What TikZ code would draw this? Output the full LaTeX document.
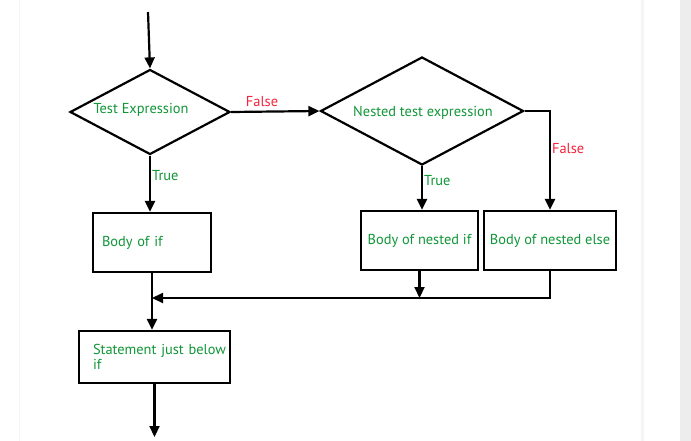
\documentclass[tikz,border=0pt]{standalone}
\usepackage{fontspec}
\setmainfont{PT Sans}
\usetikzlibrary{arrows.meta,shapes.geometric}
\definecolor{tGreen}{RGB}{16,150,56}
\definecolor{tRed}{RGB}{245,35,60}
\definecolor{pGray}{gray}{0.93}
\newcommand{\fsz}{\fontsize{14.4}{14.5}\selectfont}
\tikzset{
    diam/.style={diamond, draw, line width=2.2pt, inner sep=0pt},
    box/.style={rectangle, draw, line width=2.2pt, align=left, text=tGreen, font=\fsz},
    txt/.style={text=tGreen, font=\fsz, inner sep=0pt},
    lbl/.style={font=\fsz, inner sep=1pt},
    flow/.style={line width=2.2pt, -{Triangle[length=11pt,width=10pt]}}
}

\begin{document}
\begin{tikzpicture}[x=1pt,y=-1pt]
\useasboundingbox (0,0) rectangle (691,441);
\fill[white] (0,0) rectangle (691,441);
\fill[pGray] (680,0) rectangle (691,441);
\draw[gray!8,line width=3pt] (642,0)--(642,441);
\draw[gray!6] (19,0)--(19,441);
\node[diam,minimum width=160pt,minimum height=85pt] (test) at (150,112) {};
\node[txt] (testtxt) at (141,110) {Test Expression};
\node[diam,minimum width=203pt,minimum height=108pt] (nested) at (422,111) {};
\node[txt] (nestedtxt) at (423,113) {Nested test expression};
\node[box,minimum width=118pt,minimum height=59pt,text width=100pt,inner xsep=9pt] (bodyif) at (152,242.5) {Body of if};
\node[box,minimum width=117pt,minimum height=59pt,inner xsep=0pt] (nestedif) at (419.5,240.5) {Body of nested if};
\node[box,minimum width=132pt,minimum height=59pt,inner xsep=0pt] (nestedelse) at (550,240.5) {Body of nested else};
\node[box,minimum width=151pt,minimum height=52pt,text width=123pt,inner xsep=14pt] (stmt) at (154.5,357) {\mbox{Statement just below}\\if};
\coordinate (start) at (148,12);
\coordinate (join) at (152,298);
\coordinate (finish) at (153,437);
\draw[flow] (start) -- (test.north);
\draw[flow] (test.east) -- node[lbl,text=tRed,above=3pt,pos=0.35] {False} (nested.west);
\draw[flow] (test.south) -- node[lbl,text=tGreen,right,pos=0.36] {True} (test.south |- bodyif.north);
\draw[flow] (nested.south) -- node[lbl,text=tGreen,right,pos=0.33] {True} (nested.south |- nestedif.north);
\draw[flow] (nested.east) -| node[lbl,text=tRed,right,pos=0.69] {False} (nestedelse.north);
\draw[flow] (nestedif.south) -- (nestedif.south |- join);
\draw[flow] (nestedelse.south) |- (join);
\draw[flow] (bodyif.south) -- (bodyif.south |- stmt.north);
\draw[flow] (stmt.south) -- (stmt.south |- finish);
\end{tikzpicture}
\end{document}
